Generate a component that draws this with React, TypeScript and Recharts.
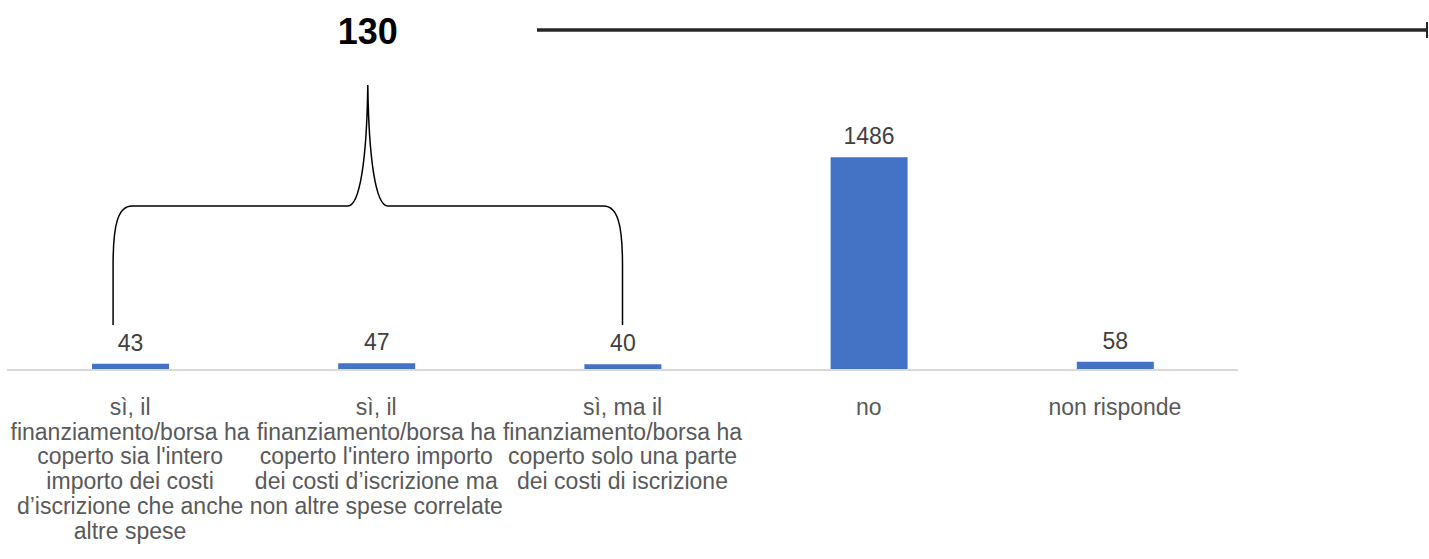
import { BarChart, Bar, XAxis, YAxis, LabelList } from "recharts"

// answer categories (line breaks as in the original axis labels)
const categories = [
  "sì, il\nfinanziamento/borsa ha\ncoperto sia l'intero\nimporto dei costi\nd’iscrizione che anche\naltre spese",
  "sì, il\nfinanziamento/borsa ha\ncoperto l'intero importo\ndei costi d’iscrizione ma\nnon altre spese correlate",
  "sì, ma il\nfinanziamento/borsa ha\ncoperto solo una parte\ndei costi di iscrizione",
  "no",
  "non risponde",
]
const counts = [43, 47, 40, 1486, 58]
// the brace groups the first three "sì" answers
const bracedCount = 3

const data = categories.map((name, i) => ({ name, count: counts[i] }))
const bracedTotal = counts.slice(0, bracedCount).reduce((a, b) => a + b, 0)

const W = 1429
const H = 559
const margin = { top: 141, right: 191, left: 7, bottom: 19 }
const band = (W - margin.left - margin.right) / categories.length
const center = (i: number) => margin.left + band * (i + 0.5)

const FONT = "'Liberation Sans', Arial, sans-serif"

function CategoryTick({ x, y, payload }: any) {
  const lines = String(payload.value).split("\n")
  return (
    <text x={x} y={y} textAnchor="middle" fill="#595959" fontSize={23} fontFamily={FONT}>
      {lines.map((line, i) => (
        <tspan key={i} x={x} dy={i === 0 ? 37 : 24.7}>
          {line}
        </tspan>
      ))}
    </text>
  )
}

function Brace() {
  const L = center(0) - 17
  const R = center(bracedCount - 1)
  const M = (L + R) / 2
  const bottom = 325
  const bar = 206
  const tip = 85
  const d = [
    `M${L},${bottom} L${L},265 C${L},224 ${L + 5},${bar} ${L + 19},${bar}`,
    `L${M - 20},${bar} C${M - 8},${bar} ${M - 1},160 ${M},${tip}`,
    `M${R},${bottom} L${R},265 C${R},224 ${R - 5},${bar} ${R - 19},${bar}`,
    `L${M + 20},${bar} C${M + 8},${bar} ${M + 1},160 ${M},${tip}`,
  ].join(" ")
  return (
    <svg
      width={W}
      height={H}
      style={{ position: "absolute", left: 0, top: 0, pointerEvents: "none" }}
    >
      <path d={d} fill="none" stroke="#000" strokeWidth={1.5} />
      <text x={M} y={44} textAnchor="middle" fontSize={36} fontWeight="bold" fontFamily={FONT} fill="#000">
        {bracedTotal}
      </text>
      <line x1={537} y1={30} x2={1427} y2={30} stroke="#262626" strokeWidth={3.5} />
      <line x1={1427} y1={22} x2={1427} y2={38} stroke="#262626" strokeWidth={2} />
    </svg>
  )
}

export default function App() {
  return (
    <div
      style={{
        position: "fixed",
        left: 0,
        top: 0,
        width: W,
        height: H,
        overflow: "hidden",
        background: "#fff",
      }}
    >
      <BarChart width={W} height={H} data={data} margin={margin}>
        <XAxis
          dataKey="name"
          interval={0}
          height={170}
          tickLine={false}
          axisLine={{ stroke: "#d9d9d9", strokeWidth: 2 }}
          tick={<CategoryTick />}
        />
        <YAxis hide domain={[0, 1600]} />
        <Bar dataKey="count" fill="#4472C4" barSize={77} isAnimationActive={false}>
          <LabelList
            dataKey="count"
            position="top"
            offset={13}
            fill="#404040"
            fontSize={23}
            fontFamily={FONT}
          />
        </Bar>
      </BarChart>
      <Brace />
    </div>
  )
}
